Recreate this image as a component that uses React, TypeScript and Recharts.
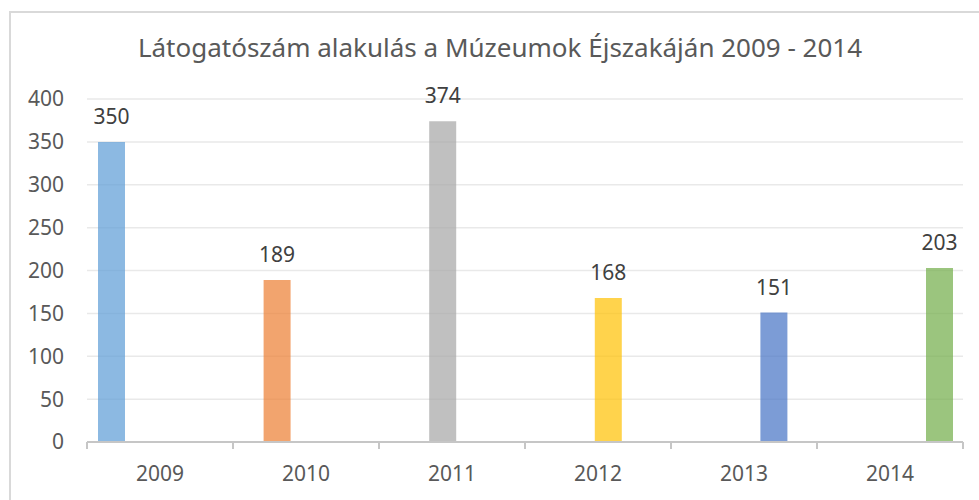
import React from "react";
import { BarChart, Bar, XAxis, YAxis, CartesianGrid, LabelList } from "recharts";

const YEARS = ["2009", "2010", "2011", "2012", "2013", "2014"];
const VISITORS = [350, 189, 374, 168, 151, 203];
const COLORS = ["#5B9BD5", "#ED7D31", "#A5A5A5", "#FFC000", "#4472C4", "#70AD47"];
const Y_TICKS = [0, 50, 100, 150, 200, 250, 300, 350, 400];

const TITLE = "Látogatószám alakulás a Múzeumok Éjszakáján 2009 - 2014";
const FONT = "'Noto Sans', sans-serif";
const AXIS_GREY = "#c6c6c6";
const TICK_GAP = 24;

// every year is its own series, like the Excel sheet it came from
const rows = YEARS.map((year, i) => {
  const row: Record<string, string | number | null> = { year };
  YEARS.forEach((y, j) => {
    row["v" + y] = i === j ? VISITORS[i] : null;
  });
  return row;
});

// year label plus the little tick marks on the category boundaries (Excel style)
function YearTick(props: any) {
  const { x, y, payload, index, visibleTicksCount } = props;
  const half = payload && typeof payload.offset === "number" ? payload.offset : 0;
  const axisY = y - TICK_GAP;
  return (
    <g>
      {half > 0 && (
        <line x1={x - half} x2={x - half} y1={axisY} y2={axisY + 7} stroke={AXIS_GREY} strokeWidth={2} />
      )}
      {half > 0 && index === visibleTicksCount - 1 && (
        <line x1={x + half} x2={x + half} y1={axisY} y2={axisY + 7} stroke={AXIS_GREY} strokeWidth={2} />
      )}
      <text x={x} y={y} dy="0.71em" textAnchor="middle" fill="#595959" fontSize={21} fontFamily={FONT}>
        {payload.value}
      </text>
    </g>
  );
}

export default function App() {
  return (
    <div style={{ position: "fixed", left: 0, top: 0, width: 979, height: 500, background: "#fff", fontFamily: FONT, overflow: "hidden" }}>
      <div style={{
        position: "absolute", left: 9, top: 11, width: 970, height: 489,
        borderLeft: "2px solid #d9d9d9", borderTop: "2px solid #d9d9d9", boxSizing: "border-box",
      }} />
      <div style={{
        position: "absolute", left: 0, top: 30, width: 1000, textAlign: "center",
        fontSize: 26, color: "#595959", lineHeight: "34px",
      }}>
        {TITLE}
      </div>
      <div style={{ position: "absolute", left: 0, top: 0 }}>
        <BarChart
          width={979}
          height={500}
          data={rows}
          margin={{ top: 99, right: 16, bottom: 0, left: 0 }}
          barGap={-7.4}
        >
          <CartesianGrid vertical={false} stroke="#e9e9e9" strokeWidth={1.5} />
          <XAxis
            dataKey="year"
            height={58}
            axisLine={{ stroke: AXIS_GREY, strokeWidth: 2 }}
            tickLine={false}
            tickSize={0}
            tickMargin={TICK_GAP}
            tick={<YearTick />}
            interval={0}
          />
          <YAxis
            width={87}
            domain={[0, 400]}
            ticks={Y_TICKS}
            axisLine={false}
            tickLine={false}
            tickSize={0}
            tickMargin={23}
            tick={{ fill: "#595959", fontSize: 21, fontFamily: FONT }}
          />
          {YEARS.map((y, j) => (
            <Bar
              key={y}
              dataKey={"v" + y}
              barSize={27}
              fill={COLORS[j]}
              fillOpacity={0.7}
              isAnimationActive={false}
            >
              <LabelList
                dataKey={"v" + y}
                position="top"
                offset={18}
                style={{ fill: "#404040", fontSize: 21, fontFamily: FONT }}
              />
            </Bar>
          ))}
        </BarChart>
      </div>
    </div>
  );
}
